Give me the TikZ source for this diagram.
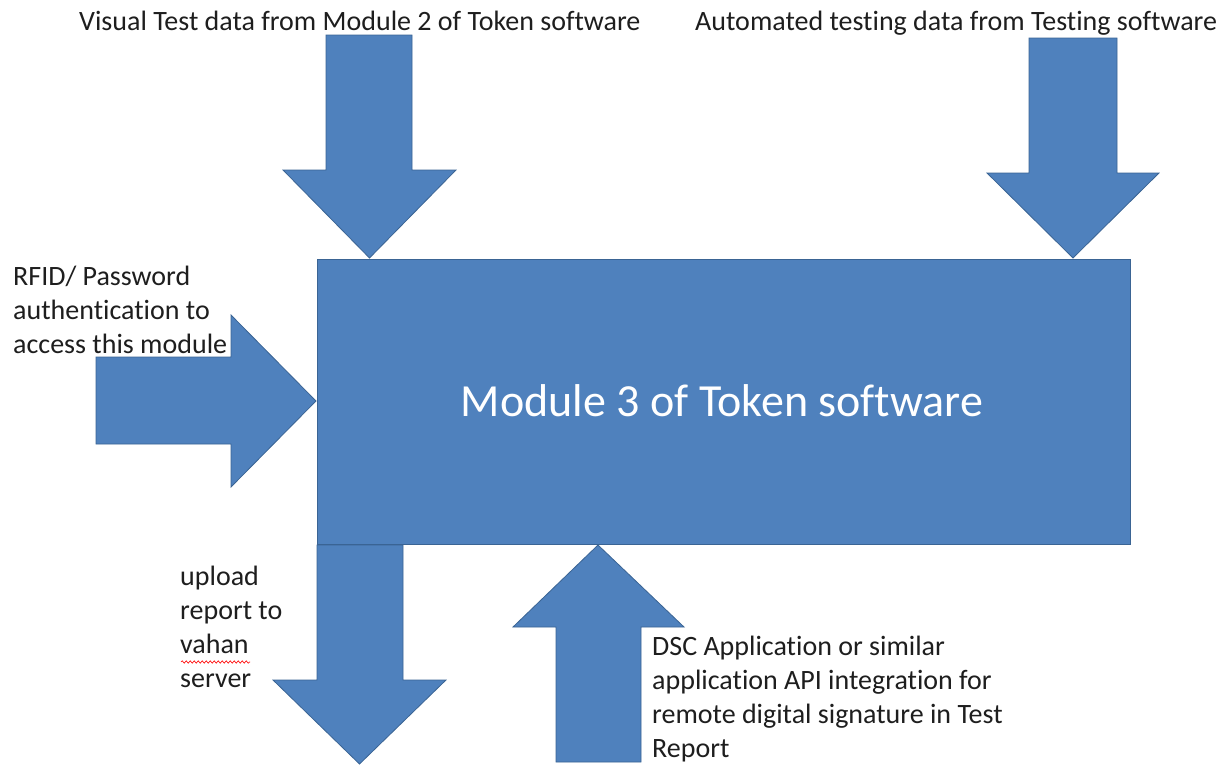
\documentclass[tikz,border=0pt]{standalone}
\usepackage{fontspec}
\setmainfont[Ligatures=NoCommon]{Carlito}
\usetikzlibrary{decorations.pathmorphing}
\definecolor{blk}{HTML}{4F81BD}
\definecolor{blkline}{HTML}{3A6494}
\definecolor{txt}{HTML}{1E1E1E}
\tikzset{
  blockarrow/.style={fill=blk, draw=blkline, line width=0.8pt, line join=miter},
  mainbox/.style={fill=blk, draw=blkline, line width=1pt, inner sep=0pt},
  lbl/.style={text=txt, inner sep=0pt, font=\fontsize{28}{34}\selectfont, align=left, anchor=base west},
}
\begin{document}
\begin{tikzpicture}[x=1pt, y=-1pt]
\useasboundingbox[fill=white] (0,0) rectangle (1226,764);
% main module
\node[mainbox, minimum width=813pt, minimum height=285pt, anchor=north west] (mod) at (317,259) {};
\node[text=white, inner sep=0pt, anchor=base, font=\fontsize{46}{52}\selectfont] (modtxt) at (722,416) {Module 3 of Token software};
% top-left arrow
\coordinate (a1tip) at (369.5,258);
\draw[blockarrow] (326,35) -- (412,35) -- (412,170) -- (456,170) -- (a1tip) -- (283,170) -- (326,170) -- cycle;
% top-right arrow
\coordinate (a2tip) at (1073,258);
\draw[blockarrow] (1029,38) -- (1117,38) -- (1117,173) -- (1159,173) -- (a2tip) -- (987,173) -- (1029,173) -- cycle;
% left arrow
\coordinate (a3tip) at (316,401);
\draw[blockarrow] (96,357) -- (231,357) -- (231,315) -- (a3tip) -- (231,487) -- (231,444) -- (96,444) -- cycle;
% bottom-left down arrow
\coordinate (a4tip) at (359.5,764);
\draw[blockarrow] (317,545) -- (403,545) -- (403,680) -- (446,680) -- (a4tip) -- (273,680) -- (317,680) -- cycle;
% bottom up arrow
\coordinate (a5tip) at (598,545);
\draw[blockarrow] (556,762) -- (556,627) -- (513,627) -- (a5tip) -- (684,627) -- (641,627) -- (641,762) -- cycle;
% labels (multi-line labels are placed by the baseline of their last line)
\node[lbl] (t1) at (79,30) {Visual Test data from Module 2 of Token software};
\node[lbl] (t2) at (695,30) {Automated testing data from Testing software};
\node[lbl, fill=white, inner sep=1pt] (t3) at (12,353) {RFID/ Password\\authentication to\\access this module};
\node[lbl] (t4) at (180,687) {upload\\report to\\vahan\\server};
\node[lbl] (t5) at (652,757) {DSC Application or similar\\application API integration for\\remote digital signature in Test\\Report};
% spell-check underline
\coordinate (w1) at (181,662);
\coordinate (w2) at (250,662);
\draw[red, line width=0.6pt, decorate, decoration={snake, segment length=4pt, amplitude=1.2pt}] (w1) -- (w2);
\end{tikzpicture}
\end{document}
